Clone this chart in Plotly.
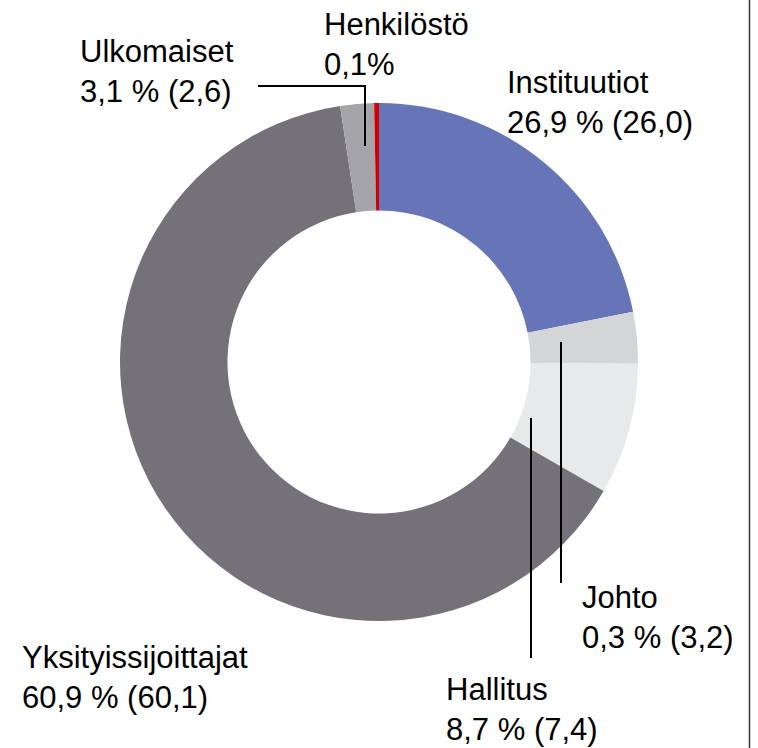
import plotly.graph_objects as go

# Data (slice sizes as drawn in the picture; label texts as printed)
categories = ["Instituutiot", "Johto", "Hallitus", "Yksityissijoittajat", "Ulkomaiset", "Henkilöstö"]
slice_values = [21.9, 3.2, 8.2, 64.3, 2.1, 0.3]
label_values = ["26,9 % (26,0)", "0,3 % (3,2)", "8,7 % (7,4)", "60,9 % (60,1)", "3,1 % (2,6)", "0,1%"]
colors = ["#6674B8", "#D4D5D7", "#E8E9EB", "#757178", "#A4A4A9", "#D00000"]

W, H = 758, 748

def px(x):
    return x / W

def py(y):
    return 1 - y / H

cx, cy, r = 379, 362, 259

fig = go.Figure()
fig.add_trace(go.Pie(
    labels=categories,
    values=slice_values,
    marker=dict(colors=colors, line=dict(width=0)),
    hole=0.585,
    sort=False,
    direction="clockwise",
    rotation=0,
    textinfo="none",
    hoverinfo="label+percent",
    showlegend=False,
    domain=dict(x=[px(cx - r), px(cx + r)], y=[py(cy + r), py(cy - r)]),
))

# label placement (left, top in pixels)
label_pos = {
    "Instituutiot": (505, 63),
    "Johto": (580, 578),
    "Hallitus": (444, 670),
    "Yksityissijoittajat": (20, 638),
    "Ulkomaiset": (78, 32),
    "Henkilöstö": (322, 5),
}
font = dict(family="Liberation Sans, Arial, sans-serif", size=31, color="#000000")
for name, val in zip(categories, label_values):
    x0, y0 = label_pos[name]
    fig.add_annotation(
        x=px(x0), y=py(y0), xref="paper", yref="paper",
        xanchor="left", yanchor="top", align="left",
        text=f"{name}<br>{val}", showarrow=False, font=font,
    )

# leader lines
line = dict(color="#000000", width=2)
fig.add_shape(type="path", xref="paper", yref="paper",
              path=f"M {px(258)} {py(86)} L {px(365)} {py(86)} L {px(365)} {py(146)}",
              line=line)
fig.add_shape(type="line", xref="paper", yref="paper",
              x0=px(561), x1=px(561), y0=py(342), y1=py(583), line=line)
fig.add_shape(type="line", xref="paper", yref="paper",
              x0=px(531), x1=px(531), y0=py(418), y1=py(658), line=line)
# right border
fig.add_shape(type="line", xref="paper", yref="paper",
              x0=px(749.5), x1=px(749.5), y0=0, y1=1,
              line=dict(color="#333333", width=1.5))

fig.update_layout(
    width=W, height=H,
    margin=dict(l=0, r=0, t=0, b=0),
    paper_bgcolor="white", plot_bgcolor="white",
)
fig.write_html("out.html", config={"displayModeBar": False},
               post_script="document.body.style.margin='0';document.body.style.overflow='hidden';")
